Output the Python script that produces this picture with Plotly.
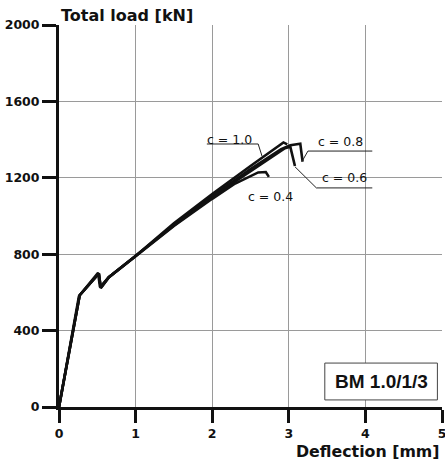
import plotly.graph_objects as go

# ---- data ----
x_c10 = [0, 0.27, 0.52, 0.545, 0.65, 1.0, 1.5, 2.0, 2.5, 2.93, 2.98]
y_c10 = [0, 585, 700, 625, 680, 790, 962, 1115, 1262, 1385, 1375]

x_c08 = [0, 0.27, 0.51, 0.535, 0.65, 1.0, 1.5, 2.0, 2.5, 2.9, 3.02, 3.15, 3.18]
y_c08 = [0, 585, 702, 628, 680, 790, 955, 1105, 1245, 1350, 1370, 1378, 1285]

x_c06 = [0, 0.27, 0.52, 0.545, 0.65, 1.0, 1.5, 2.0, 2.5, 2.95, 3.02, 3.08]
y_c06 = [0, 585, 700, 625, 680, 790, 950, 1100, 1235, 1355, 1362, 1262]

x_c04 = [0, 0.26, 0.52, 0.545, 0.65, 1.0, 1.5, 2.0, 2.3, 2.6, 2.7, 2.74]
y_c04 = [0, 580, 698, 622, 678, 788, 948, 1090, 1170, 1228, 1230, 1205]

series_names = ["c = 1.0", "c = 0.8", "c = 0.6", "c = 0.4"]
x_ticks = [0, 1, 2, 3, 4, 5]
y_ticks = [0, 400, 800, 1200, 1600, 2000]

# label placement (text centre, underline start/end, leader end) in data units
label_text_pos = {"c = 1.0": (2.23, 1403), "c = 0.8": (3.67, 1389),
                  "c = 0.6": (3.73, 1200), "c = 0.4": (2.76, 1100)}
leaders = {
    "c = 1.0": [(2.60, 1377), (1.93, 1377), (2.60, 1377), (2.65, 1314)],
    "c = 0.8": [(4.09, 1340), (3.25, 1340), (3.25, 1340), (3.17, 1284)],
    "c = 0.6": [(4.09, 1147), (3.36, 1147), (3.36, 1147), (3.08, 1258)],
}

FONT = "DejaVu Sans, sans-serif"
FONT2 = "Liberation Sans, Arial, sans-serif"

fig = go.Figure()
for xs, ys, nm in [(x_c10, y_c10, series_names[0]), (x_c08, y_c08, series_names[1]),
                   (x_c06, y_c06, series_names[2]), (x_c04, y_c04, series_names[3])]:
    fig.add_trace(go.Scatter(x=xs, y=ys, mode="lines", name=nm,
                             line=dict(color="#111", width=2.6), showlegend=False))

for nm, (a, b, c, d) in leaders.items():
    fig.add_trace(go.Scatter(x=[a[0], b[0], None, c[0], d[0]],
                             y=[a[1], b[1], None, c[1], d[1]],
                             mode="lines", line=dict(color="#222", width=1),
                             showlegend=False, hoverinfo="skip"))

for nm, (tx, ty) in label_text_pos.items():
    fig.add_annotation(x=tx, y=ty, text=nm, showarrow=False,
                       font=dict(family=FONT, size=12.5, color="#111"),
                       xanchor="center", yanchor="middle")

# box label
fig.add_shape(type="rect", x0=3.47, x1=4.94, y0=37, y1=230,
              line=dict(color="#444", width=1), fillcolor="white", layer="above")
fig.add_annotation(x=4.205, y=134, text="BM 1.0/1/3", showarrow=False,
                   font=dict(family=FONT2, size=19, color="#111", weight="bold"))

# axis titles
fig.add_annotation(xref="paper", yref="paper", x=0.0, y=1 + 9 / 382,
                   xanchor="left", yanchor="middle", text="Total load [kN]",
                   showarrow=False,
                   font=dict(family=FONT, size=16, color="#111", weight="bold"))
fig.add_annotation(xref="paper", yref="paper", x=1.0, y=-44 / 382,
                   xanchor="right", yanchor="middle", text="Deflection [mm]",
                   showarrow=False,
                   font=dict(family=FONT, size=15.8, color="#111", weight="bold"))

fig.update_xaxes(range=[0, 5], tickvals=x_ticks, ticks="outside", ticklen=13,
                 tickwidth=2.5, tickcolor="#111", showline=True, linewidth=3,
                 linecolor="#111", showgrid=True, gridcolor="#9a9a9a", gridwidth=1,
                 zeroline=False, ticklabeloverflow="allow", automargin=False,
                 tickfont=dict(family=FONT, size=12.5, color="#111", weight="bold"))
fig.update_yaxes(range=[0, 2000], tickvals=y_ticks, ticks="outside", ticklen=14,
                 tickwidth=2.5, tickcolor="#111", showline=True, linewidth=3,
                 linecolor="#111", showgrid=True, gridcolor="#9a9a9a", gridwidth=1,
                 zeroline=False, automargin=False,
                 tickfont=dict(family=FONT, size=12.5, color="#111", weight="bold"))

fig.update_layout(width=445, height=466, autosize=False,
                  margin=dict(l=59, r=3, t=25, b=59, autoexpand=False),
                  plot_bgcolor="white", paper_bgcolor="white")

fig.write_html("out.html", config={"displayModeBar": False},
               post_script="document.body.style.margin='0';document.body.style.overflow='hidden';")
